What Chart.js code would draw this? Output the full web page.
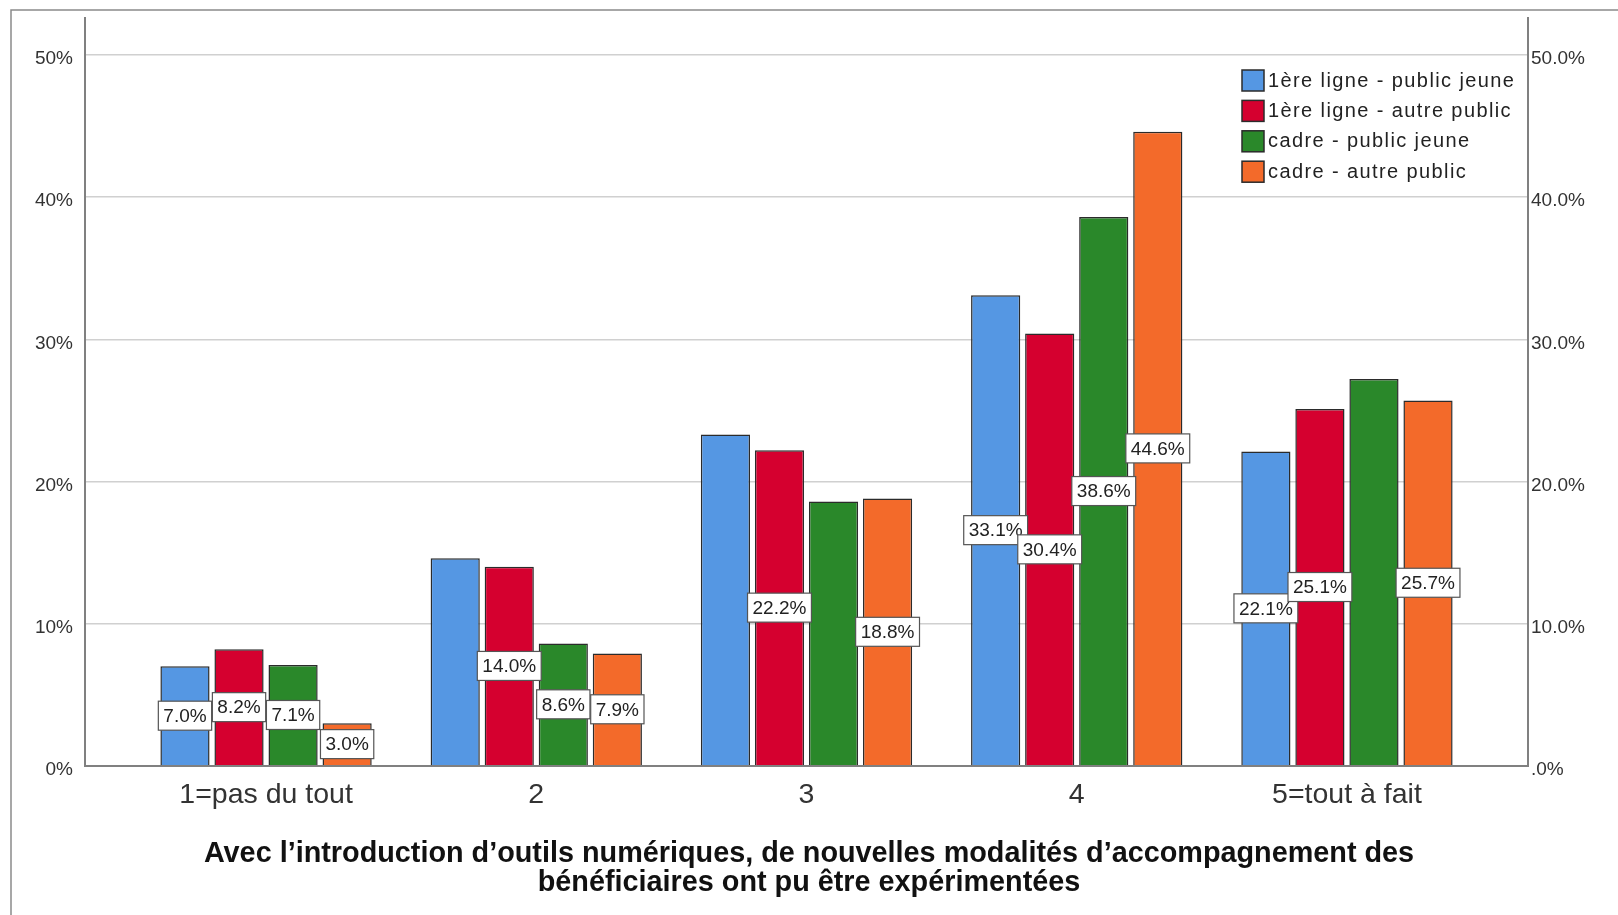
<!DOCTYPE html>
<html><head><meta charset="utf-8">
<script src="https://cdn.jsdelivr.net/npm/chart.js@4.4.1/dist/chart.umd.min.js"></script>
<style>html,body{margin:0;padding:0;background:#fff;overflow:hidden}</style>
</head><body>
<canvas id="c" width="1618" height="915"></canvas>
<script>
const categories = ['1=pas du tout', '2', '3', '4', '5=tout à fait'];
const seriesNames = ['1ère ligne - public jeune', '1ère ligne - autre public', 'cadre - public jeune', 'cadre - autre public'];
const blueValues   = [7.0, 14.6, 23.3, 33.1, 22.1];
const redValues    = [8.2, 14.0, 22.2, 30.4, 25.1];
const greenValues  = [7.1, 8.6, 18.6, 38.6, 27.2];
const orangeValues = [3.0, 7.9, 18.8, 44.6, 25.7];
const blueLabels   = ['7.0%', null, null, '33.1%', '22.1%'];
const redLabels    = ['8.2%', '14.0%', '22.2%', '30.4%', '25.1%'];
const greenLabels  = ['7.1%', '8.6%', null, '38.6%', null];
const orangeLabels = ['3.0%', '7.9%', '18.8%', '44.6%', '25.7%'];
const leftTicks = [0, 10, 20, 30, 40, 50];
const leftTickLabels = ['0%', '10%', '20%', '30%', '40%', '50%'];
const rightTickLabels = ['.0%', '10.0%', '20.0%', '30.0%', '40.0%', '50.0%'];
const xTitle = ['Avec l’introduction d’outils numériques, de nouvelles modalités d’accompagnement des', 'bénéficiaires ont pu être expérimentées'];
const colors = ['#5597e3', '#d5002f', '#2a882a', '#f36a2a'];

const FONT = '"Liberation Sans", Arial, sans-serif';
Chart.defaults.font.family = FONT;

const allValues = [blueValues, redValues, greenValues, orangeValues];
const allLabels = [blueLabels, redLabels, greenLabels, orangeLabels];

const framePlugin = {
  id: 'frame',
  beforeDraw(chart) {
    const ctx = chart.ctx;
    ctx.save();
    ctx.fillStyle = '#fff';
    ctx.fillRect(0, 0, chart.width, chart.height);
    ctx.strokeStyle = '#8a8a8a';
    ctx.lineWidth = 1.5;
    ctx.beginPath();
    ctx.moveTo(11, chart.height);
    ctx.lineTo(11, 10);
    ctx.lineTo(chart.width, 10);
    ctx.stroke();
    ctx.restore();
  }
};

const labelPlugin = {
  id: 'valueLabels',
  afterDatasetsDraw(chart) {
    const ctx = chart.ctx;
    ctx.save();
    ctx.font = '19px ' + FONT;
    ctx.textAlign = 'center';
    ctx.textBaseline = 'middle';
    chart.data.datasets.forEach((ds, di) => {
      const meta = chart.getDatasetMeta(di);
      meta.data.forEach((bar, i) => {
        const txt = allLabels[di][i];
        if (!txt) return;
        const p = bar.getProps(['x', 'y', 'base'], true);
        const cy = (p.y + p.base) / 2;
        const w = ctx.measureText(txt).width + 10, h = 29;
        ctx.fillStyle = '#fff';
        ctx.fillRect(p.x - w / 2, cy - h / 2, w, h);
        ctx.strokeStyle = '#555';
        ctx.lineWidth = 1.2;
        ctx.strokeRect(p.x - w / 2, cy - h / 2, w, h);
        ctx.fillStyle = '#222';
        ctx.fillText(txt, p.x, cy + 1);
      });
    });
    ctx.restore();
  }
};

const legendPlugin = {
  id: 'manualLegend',
  afterDraw(chart) {
    const ctx = chart.ctx;
    ctx.save();
    const x0 = 1242, y0 = 70, rowH = 30.4;
    ctx.font = '20px ' + FONT;
    ctx.textAlign = 'left';
    ctx.textBaseline = 'middle';
    try { ctx.letterSpacing = '1.4px'; } catch (e) {}
    chart.data.datasets.forEach((ds, i) => {
      const y = y0 + i * rowH;
      ctx.fillStyle = ds.backgroundColor;
      ctx.fillRect(x0, y, 22, 21);
      ctx.strokeStyle = '#2b2b2b';
      ctx.lineWidth = 1.5;
      ctx.strokeRect(x0, y, 22, 21);
      ctx.fillStyle = '#222';
      ctx.fillText(ds.label, 1268, y + 11);
    });
    ctx.restore();
  }
};

const datasets = seriesNames.map((name, k) => ({
  label: name,
  data: allValues[k].map((v, i) => ({ x: i, y: v })),
  backgroundColor: colors[k],
  borderColor: '#2b2b2b',
  borderWidth: 1.5,
  categoryPercentage: 0.8,
  barPercentage: 0.91
}));

new Chart(document.getElementById('c'), {
  type: 'bar',
  data: { datasets },
  options: {
    responsive: false,
    animation: false,
    devicePixelRatio: 1,
    layout: { padding: { left: 0, right: 0, top: 18, bottom: 17 } },
    plugins: {
      legend: { display: false },
      tooltip: { enabled: false },
      title: {
        display: true, position: 'bottom', text: xTitle, color: '#111',
        font: { size: 28.8, weight: 'bold', lineHeight: 1.01 },
        padding: { top: 14, bottom: 0 }
      }
    },
    scales: {
      x: {
        type: 'linear', min: -0.67, max: 4.67, offset: false,
        grid: { display: false, drawTicks: false },
        border: { display: true, color: '#808080', width: 2 },
        ticks: { padding: 12, font: { size: 28.5 }, color: '#333', maxRotation: 0, autoSkip: false,
          callback: (v) => categories[v] },
        afterBuildTicks: (s) => { s.ticks = categories.map((c, i) => ({ value: i })); },
        afterFit: (s) => { s.height = 60; }
      },
      y: {
        position: 'left', min: 0, max: 52.6,
        grid: { color: (c) => (c.tick && c.tick.value === 0) ? 'rgba(0,0,0,0)' : '#d0d0d0', lineWidth: 1.5, drawTicks: false },
        border: { color: '#808080', width: 2 },
        ticks: { padding: 12, labelOffset: 4, font: { size: 19, lineHeight: 0.5 }, color: '#333',
          callback: (v) => leftTickLabels[leftTicks.indexOf(v)] },
        afterBuildTicks: (s) => { s.ticks = leftTicks.map(v => ({ value: v })); },
        afterFit: (s) => { s.width = 85; }
      },
      y2: {
        position: 'right', min: 0, max: 52.6,
        grid: { display: false, drawTicks: false },
        border: { color: '#808080', width: 2 },
        ticks: { padding: 3, labelOffset: 4, font: { size: 19, lineHeight: 0.5 }, color: '#333',
          callback: (v) => rightTickLabels[leftTicks.indexOf(v)] },
        afterBuildTicks: (s) => { s.ticks = leftTicks.map(v => ({ value: v })); },
        afterFit: (s) => { s.width = 90; }
      }
    }
  },
  plugins: [framePlugin, labelPlugin, legendPlugin]
});
</script>
</body></html>
